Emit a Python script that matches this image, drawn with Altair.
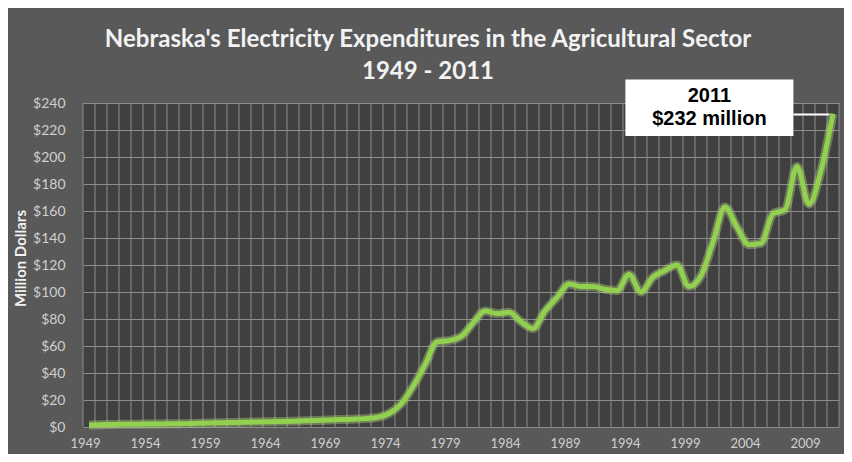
import altair as alt
import pandas as pd

years = list(range(1949, 2012))
values = [1.5, 1.7, 1.9, 2.0, 2.1, 2.2, 2.3, 2.4, 2.5, 2.7,
          2.9, 3.1, 3.3, 3.5, 3.7, 3.9, 4.1, 4.3, 4.6, 4.9,
          5.2, 5.5, 5.8, 6.2, 7.0, 10, 17, 30, 46, 63,
          64, 67, 77, 86, 84, 85, 78, 73, 86, 96,
          106, 104, 104, 102, 101, 113, 100, 111, 116, 120,
          104, 112, 137, 163, 148, 135, 136, 158, 161, 193,
          165, 190, 232]
tick_years = [1949, 1954, 1959, 1964, 1969, 1974, 1979, 1984, 1989, 1994, 1999, 2004, 2009]
y_ticks = [0, 20, 40, 60, 80, 100, 120, 140, 160, 180, 200, 220, 240]

title_lines = ["Nebraska's Electricity Expenditures in the Agricultural Sector", "1949 - 2011"]
note_lines = ["2011", "$232 million"]
# annotation placement in data space
note_box = {"x": 1993.7, "x2": 2007.7, "y": 257.5, "y2": 215.5}
note_text_x = 2000.7
note_text_y = [245, 228]
connector = {"x": 2007.7, "x2": 2010.7, "y": 231.5}

df = pd.DataFrame({"year": years, "value": values})
grid_df = pd.DataFrame({"b": [y - 0.5 for y in years] + [years[-1] + 0.5]})

xscale = alt.Scale(domain=[years[0] - 0.5, years[-1] + 0.5], nice=False, zero=False)
yscale = alt.Scale(domain=[0, 240], nice=False)

xaxis = alt.Axis(values=tick_years, format="d", grid=False, ticks=False, domain=False,
                 labelColor="#d0d0d0", labelFontSize=13, labelFont="Lato", labelPadding=10,
                 labelOffset=-4, labelOverlap=False, title=None)
yaxis = alt.Axis(values=y_ticks, labelExpr="'$' + datum.value", grid=True, gridColor="#8c8c8c",
                 gridWidth=1, ticks=False, domain=False, labelColor="#d0d0d0", labelFontSize=14,
                 labelFont="Lato", labelPadding=18, labelOverlap=False,
                 title="Million Dollars", titleColor="#f2f2f2",
                 titleFont="Lato", titleFontSize=15, titleFontWeight="bold", titleX=-63, titleY=155,
                 titleAlign="center", titleBaseline="middle", titleAngle=270)


def X(field):
    return alt.X(field, scale=xscale, axis=xaxis)


def Y(field):
    return alt.Y(field, scale=yscale, axis=yaxis)


vgrid = alt.Chart(grid_df).mark_rule(color="#8c8c8c", strokeWidth=1).encode(
    x=X("b:Q"), y=alt.value(0), y2=alt.value(324))

glow = alt.Chart(df).mark_line(color="#c4ec86", strokeWidth=9, opacity=0.35,
                               interpolate="monotone").encode(x=X("year:Q"), y=Y("value:Q"))
line = alt.Chart(df).mark_line(color="#92d050", strokeWidth=5, interpolate="monotone").encode(
    x=X("year:Q"), y=Y("value:Q"))

box = alt.Chart(pd.DataFrame([note_box])).mark_rect(color="white", clip=False).encode(
    x=X("x:Q"), x2="x2:Q", y=Y("y:Q"), y2="y2:Q")
conn = alt.Chart(pd.DataFrame([connector])).mark_rule(color="white", strokeWidth=2, clip=False).encode(
    x=X("x:Q"), x2="x2:Q", y=Y("y:Q"))
note = alt.Chart(pd.DataFrame({"t": note_lines, "x": [note_text_x] * 2, "y": note_text_y})).mark_text(
    font="Liberation Sans", fontWeight="bold", fontSize=20, color="black", clip=False,
    align="center", baseline="middle").encode(x=X("x:Q"), y=Y("y:Q"), text="t:N")

chart = alt.layer(vgrid, glow, line, box, conn, note).properties(
    width=756, height=324,
    title=alt.TitleParams(text=title_lines, fontSize=24, font="Lato", fontWeight="bold",
                          color="#f2f2f2", lineHeight=32, anchor="middle", dx=-33, dy=25, offset=20),
    autosize=alt.AutoSizeParams(type="none"),
    padding={"left": 75, "top": 95, "right": 5, "bottom": 27},
    background="#595959",
).configure_view(fill="#404040", stroke=None)

chart.save("out.html", embed_options={"renderer": "svg", "actions": False})
